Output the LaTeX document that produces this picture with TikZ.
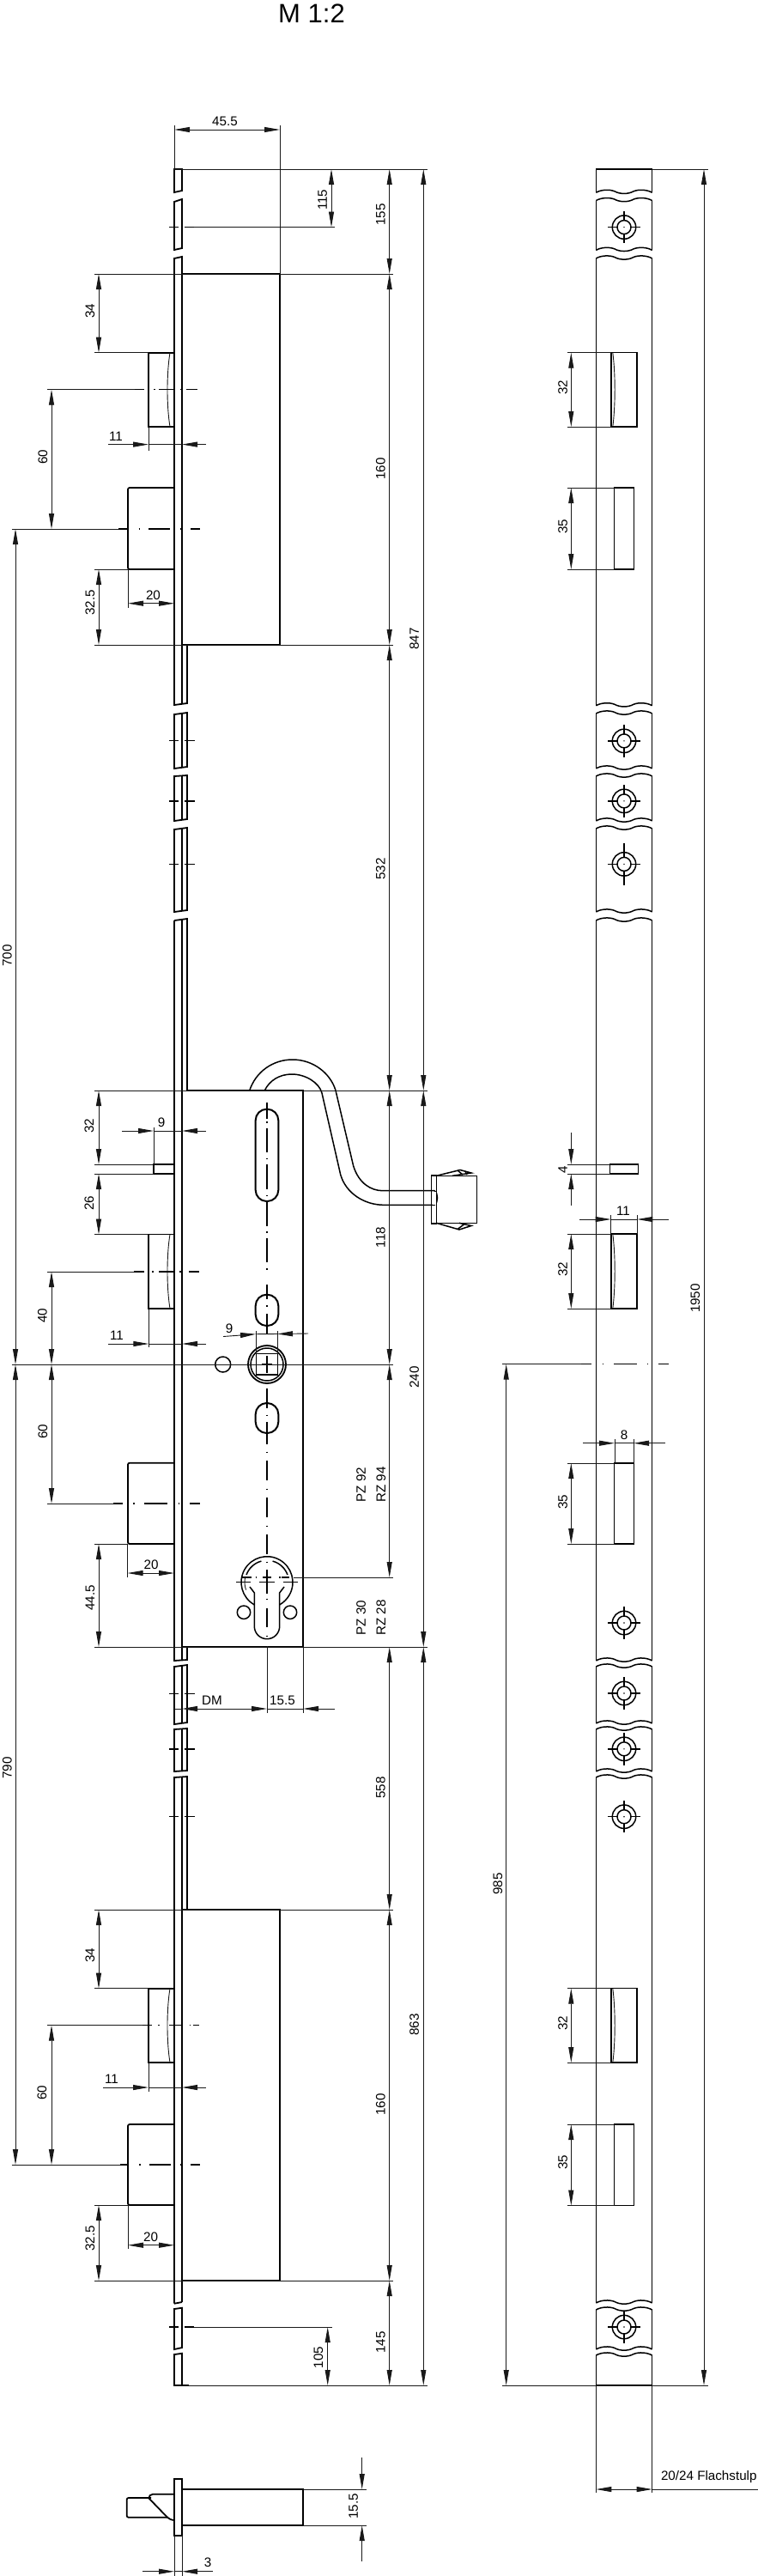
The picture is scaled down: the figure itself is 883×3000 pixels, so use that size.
\documentclass[tikz,border=0pt]{standalone}
\usepackage{fontspec}
\setmainfont{Liberation Sans}
\usetikzlibrary{arrows.meta}
\newcounter{lb}
\tikzset{
  thk/.style={line width=1.8pt,line join=miter},
  med/.style={line width=1.5pt},
  thn/.style={line width=0.9pt,black!90},
  cln/.style={line width=1.2pt},
  dimv/.style={line width=0.9pt,black!90,{Triangle[length=18pt,width=6pt]}-{Triangle[length=18pt,width=6pt]}},
  dimr/.style={line width=0.9pt,black!90,-{Triangle[length=18pt,width=6pt]}},
  lab/.style={inner sep=0pt,font=\fontsize{15.2}{16}\selectfont},
}
% dimension helpers
\newcommand{\vdm}[3]{\draw[dimv] (#1,#2) -- (#1,#3);}
\newcommand{\hout}[5]{% y, left tail, left tip, right tail, right tip
  \draw[dimr] (#2,#1) -- (#3,#1); \draw[dimr] (#4,#1) -- (#5,#1); \draw[thn] (#3,#1) -- (#5,#1);}
\newcommand{\lbh}[3]{\stepcounter{lb}\node[lab] (t\arabic{lb}) at (#1,#2) {#3};}
\newcommand{\lbv}[3]{\stepcounter{lb}\node[lab,rotate=90] (t\arabic{lb}) at (#1,#2) {#3};}
\newcommand{\hsg}[2]{\foreach \a/\b in {#2} {\draw[cln] (\a,#1) -- (\b,#1);}}
\newcommand{\tck}[1]{\hsg{#1}{197/208,214.5/227}}
\newcommand{\lseg}[5]{\draw[thk] (203,#1) -- (#5,#2) -- (#5,#4) -- (203,#3) -- cycle;}
% right view
\newcommand{\wv}[1]{\draw[med] (694.3,#1) .. controls (700,#1-3.5) and (710,#1-4) .. (716,#1-1.5) .. controls (722,#1+2) and (732,#1+2) .. (738,#1-1.5) .. controls (744,#1-4) and (754,#1-3.5) .. (759.7,#1);}
\newcommand{\pce}[2]{\wv{#1}\wv{#2}\draw[med] (694.3,#1) -- (694.3,#2) (759.7,#1) -- (759.7,#2);}
\newcommand{\hol}[2]{% y, vertical reach
  \draw[med] (727,#1) circle[radius=13.7] (727,#1) circle[radius=8];
  \fill (727,#1) circle[radius=0.8];
  \draw[med] (708.3,#1) -- (719,#1) (735,#1) -- (745.7,#1) (727,#1-#2) -- (727,#1-8) (727,#1+8) -- (727,#1+#2);}
\newcommand{\ltc}[2]{% latch, left view: top, bottom
  \draw[thk] (203,#1) -- (173,#1) -- (173,#2) -- (203,#2);
  \draw[thn] (198,#1) .. controls (194,#1+25) and (194,#2-25) .. (198,#2);
  \draw[thn] (110,#1) -- (173,#1);}
\newcommand{\blt}[2]{% bolt, left view: top, bottom
  \draw[thk,rounded corners=2pt] (203,#1) -- (149,#1) -- (149,#2) -- (203,#2);
  \draw[thn] (110,#2) -- (149,#2);}
\newcommand{\rlt}[2]{% latch, right view
  \draw[med] (712,#1) rectangle (742,#2);
  \draw[thn] (713.8,#1) .. controls (717,#1+25) and (717,#2-25) .. (713.8,#2);
  \draw[thn] (660.7,#1) -- (712,#1) (660.7,#2) -- (712,#2);
  \vdm{665.3}{#1}{#2}}
\newcommand{\rbl}[2]{% bolt, right view
  \draw[med] (715.7,#1) rectangle (738.3,#2);
  \draw[thn] (660.7,#1) -- (715.7,#1) (660.7,#2) -- (715.7,#2);
  \vdm{665.3}{#1}{#2}}
\begin{document}
\begin{tikzpicture}[x=1pt,y=-1pt]
\useasboundingbox (0,0) rectangle (883,3000);
\fill[white] (0,0) rectangle (883,3000);
\stepcounter{lb}\node[inner sep=0pt,font=\fontsize{31}{32}\selectfont] (title) at (363,15.5) {M 1:2};

%% ---------- left view: faceplate segments
\lseg{197}{197}{224}{222}{212}
\lseg{235}{232}{291}{289}{212}
\draw[thk] (203,301) -- (212,299) -- (212,751) -- (218,751) -- (218,819) -- (203,821) -- cycle;
\draw[thk] (212,751) -- (212,820);
\lseg{832}{830}{895}{893}{218} \draw[med] (212,831) -- (212,894);
\lseg{904}{903}{956}{954}{218} \draw[med] (212,903.5) -- (212,955);
\lseg{966}{964}{1062}{1060}{218} \draw[med] (212,965) -- (212,1061);
\draw[thk] (203,1072) -- (218,1070) -- (218,1270);
\draw[med] (212,1071) -- (212,1933);
\draw[thk] (203,1072) -- (203,1934) -- (218,1933) -- (218,1918);
\lseg{1941}{1939}{2008}{2006}{218} \draw[med] (212,1940) -- (212,2007);
\lseg{2014}{2013}{2063}{2062}{218} \draw[med] (212,2013.5) -- (212,2062.5);
\draw[thk] (203,2682.7) -- (203,2070) -- (218,2069) -- (218,2224);
\draw[med] (212,2069.5) -- (212,2681);
\draw[thk] (203,2682.7) -- (212,2681);
\lseg{2689}{2687.7}{2736}{2734}{212}
\lseg{2742}{2740.7}{2778}{2778}{212}
\draw[thk] (212,2224) -- (212,2681);

%% lock cases
\draw[thk] (212,319) -- (326,319) -- (326,751) -- (212,751);
\draw[thk] (218,1270) -- (353,1270) -- (353,1918) -- (212,1918);
\draw[thk] (212,2224) -- (326,2224) -- (326,2656) -- (212,2656);

%% screw centre ticks on the faceplate
\hsg{264.5}{197/208,215/226}
\tck{862.7}\tck{933}\tck{1006.7}\tck{1972.7}\tck{2037}\tck{2115.7}
\hsg{2710}{197/208,215/226}
\draw[thn] (226,264.5) -- (390,264.5);
\draw[thn] (226,2710) -- (386.7,2710);

%% latches and bolts, left view
\ltc{410.7}{497}
\ltc{2315.7}{2402}
\draw[thk] (203,1437.5) -- (173.3,1437.5) -- (173.3,1524) -- (203,1524);
\draw[thn] (198,1437.5) .. controls (194,1462) and (194,1499) .. (198,1524);
\draw[thn] (110,1437.5) -- (173.3,1437.5);
\blt{568}{663}
\blt{1703.7}{1798}
\blt{2474}{2568}
\draw[thk] (203,1356) -- (179,1356) -- (179,1367) -- (203,1367);
\draw[thn] (110,1356) -- (179,1356) (110,1367) -- (179,1367) (179,1313) -- (179,1356);

%% centre lines, left view
\hsg{453.7}{157/168,179/180.5,185/202,210/211.5,217/230}
\draw[thn] (55,453.7) -- (157,453.7);
\hsg{616}{138/149,161.5/163,173/198,209.5/211,222/233}
\draw[thn] (13.5,616) -- (138,616);
\hsg{1481}{156/168,177/178.5,185/203,209/210.5,220/232}
\draw[thn] (55,1481) -- (156,1481);
\hsg{1751}{132/143,155/156.5,168/195,207.5/209,221/233}
\draw[thn] (55,1751) -- (132,1751);
\hsg{2358.7}{166/177,184/185.5,197/213,220.5/222,225/232}
\draw[thn] (55,2358.7) -- (166,2358.7);
\hsg{2521}{140/149,162/163.5,174/199,209.5/211,222/233}
\draw[thn] (13.5,2521) -- (140,2521);

%% slots and holes in the central case
\draw[line width=2pt,rounded corners=13pt] (297.7,1291.7) rectangle (324.3,1399);
\draw[line width=2pt,rounded corners=13pt] (297.7,1507.7) rectangle (324.3,1544);
\draw[line width=2pt,rounded corners=13pt] (297.7,1634) rectangle (324.3,1669);
\draw[med] (259.7,1589) circle[radius=9];
\draw[thk] (311,1589) circle[radius=22];
\draw[med] (311,1589) circle[radius=19];
\draw[med] (298.5,1576.5) rectangle (323.5,1601);
\draw[thk] (305,1589) -- (317,1589) (311,1579) -- (311,1599);
\draw[thn] (298,1550) -- (298,1576.5) (323,1550) -- (323,1576.5);

%% vertical centre line
\foreach \a/\b in {1284/1303,1306/1307.5,1314/1342,1348.5/1350,1356/1385,1391.5/1393,1399/1428,1434/1435.5,1442/1470,1477/1478.5,1496/1513,1520/1521.5,1530/1553,1617/1640,1647.5/1649,1656/1682,1690.5/1692,1701/1724,1733.5/1735,1744/1767,1776.5/1778,1787/1810,1818.5/1820,1828/1856,1861.5/1863,1873/1895,1904.5/1906}
  {\draw[cln] (311,\a) -- (311,\b);}
\draw[thn] (311,1917) -- (311,1995);
\draw[thn] (353,1918) -- (353,1995);

%% profile cylinder cut-out
\draw[med] (311,1842.7) ++(119.3:30) arc[start angle=119.3,end angle=420.7,radius=30];
\draw[med] (291,1848) -- (296.3,1855) -- (296.3,1894) arc[start angle=180,end angle=0,radius=14.7] -- (325.7,1855) -- (331,1848);
\draw[thn] (311,1842.7) ++(160:26) arc[start angle=160,end angle=195,radius=26];
\draw[med] (311,1842.7) ++(200:25.5) arc[start angle=200,end angle=255,radius=25.5];
\draw[med] (311,1842.7) ++(285:25.5) arc[start angle=285,end angle=340,radius=25.5];
\draw[med] (284,1877.7) circle[radius=7.7] (338,1877.7) circle[radius=7.7];
\hsg{1842.7}{275/292,302/320,330/347}
\draw[thk] (311,1833) -- (311,1852);
\hsg{1837}{281/293,297.5/299,306/316,325/326.5,328/337}
\draw[thn] (342,1837) -- (458,1837);

%% cable
\draw[med] (290.7,1270) .. controls (298,1248) and (318,1234) .. (340.7,1234) .. controls (365,1234) and (385,1250) .. (391,1270)
  -- (411.7,1358) .. controls (418,1378) and (432,1386.7) .. (446,1386.7) -- (506,1386.7)
  .. controls (508.5,1388) and (509.5,1392) .. (509.5,1395) .. controls (509.5,1398) and (508.5,1402) .. (506,1403.3)
  -- (447,1403.3) .. controls (425,1403.3) and (403,1390) .. (396.7,1368) -- (375,1273) .. controls (372,1261) and (356,1251) .. (340,1251) .. controls (326,1251) and (314,1258) .. (308.3,1270);
%% connector
\draw[med] (502.7,1369) rectangle (508.3,1425);
\draw[med] (508.3,1369.3) rectangle (555.7,1424.3);
\fill[white] (504,1387.5) rectangle (507.5,1402.5);
\draw[med] (508.3,1369.3) -- (536,1362.5) -- (549,1366) -- (527,1369.3);
\draw[med] (533,1363) -- (539,1368) (542,1364) -- (544,1368);
\draw[med] (508.3,1424.3) -- (535,1432) -- (549,1427.5) -- (535,1424.3);
\draw[med] (533,1431.5) -- (541,1425.5);

%% long construction lines
\draw[thn] (203,197) -- (498,197);
\draw[thn] (110,319) -- (458,319);
\draw[thn] (110,751) -- (458,751);
\draw[thn] (110,1270) -- (498,1270);
\draw[thn] (13.5,1589) -- (458,1589);
\draw[thn] (110,1918) -- (498,1918);
\draw[thn] (110,2224) -- (458,2224);
\draw[thn] (110,2656) -- (458,2656);
\draw[thn] (203,2778) -- (498,2778);
\draw[thk] (203,2778) -- (220,2778);
\draw[thn] (203,146) -- (203,197) (326,146) -- (326,319);

%% dimensions, left view
\draw[dimv] (203,151) -- (326,151); \lbh{262}{141}{45.5}
\vdm{386}{197}{264.5} \lbv{375.7}{232.7}{115}
\vdm{453.7}{197}{319} \lbv{443.5}{250}{155}
\vdm{453.7}{319}{751} \lbv{443.5}{546}{160}
\vdm{453.7}{751}{1270} \lbv{443.5}{1012}{532}
\vdm{453.7}{1270}{1589} \lbv{443.5}{1441}{118}
\vdm{453.7}{1589}{1837}
\vdm{453.7}{1918}{2224} \lbv{443.5}{2082}{558}
\vdm{453.7}{2224}{2656} \lbv{443.5}{2451}{160}
\vdm{453.7}{2656}{2778} \lbv{443.5}{2728}{145}
\vdm{493.3}{197}{1270} \lbv{482.7}{744}{847}
\vdm{493.3}{1270}{1918} \lbv{482.7}{1604}{240}
\vdm{493.3}{1918}{2778} \lbv{482.7}{2358}{863}
\lbv{420.7}{1729}{PZ 92} \lbv{444}{1729}{RZ 94}
\lbv{420.7}{1884}{PZ 30} \lbv{444}{1884}{RZ 28}
\vdm{381.7}{2710}{2778} \lbv{371}{2745.7}{105}

\vdm{115}{319}{410.7} \lbv{105}{362}{34}
\vdm{60}{453.7}{616} \lbv{50}{532}{60}
\hout{517.6}{126}{173}{240}{212} \draw[thn] (173,497) -- (173,525); \lbh{135}{508}{11}
\draw[dimv] (149,702.7) -- (203,702.7); \draw[thn] (149,663) -- (149,708); \lbh{178.5}{693}{20}
\vdm{115}{663}{751} \lbv{105}{702}{32.5}
\vdm{18}{616}{1589} \lbv{8.5}{1113}{700}

\vdm{115}{1270}{1356} \lbv{104}{1311}{32}
\hout{1317}{142}{179}{240}{212} \lbh{188}{1307}{9}
\vdm{115}{1367}{1437.5} \lbv{104}{1401}{26}
\vdm{60}{1481}{1589} \lbv{49.5}{1532}{40}
\hout{1565}{126}{173.3}{240}{212} \draw[thn] (173.3,1524) -- (173.3,1569); \lbh{136}{1555}{11}
\draw[dimr] (260,1556.5) -- (298,1553.7); \draw[dimr] (359,1553) -- (323,1553.5); \draw[thn] (298,1553.7) -- (323,1553.5); \lbh{267}{1547}{9}
\vdm{60}{1589}{1751} \lbv{50}{1667}{60}
\draw[dimv] (148.5,1832) -- (203,1832); \draw[thn] (148.5,1798) -- (148.5,1837); \lbh{176}{1822}{20}
\vdm{115}{1798}{1918} \lbv{105}{1861}{44.5}
\draw[dimv] (212,1990) -- (311,1990); \draw[thn] (203,1990) -- (212,1990);
\draw[dimr] (390,1990) -- (353,1990); \draw[thn] (311,1990) -- (353,1990);
\lbh{247}{1980}{DM} \lbh{329}{1980}{15.5}

\vdm{18}{1589}{2521} \lbv{8.5}{2059}{790}
\vdm{115}{2224}{2315.7} \lbv{105}{2277}{34}
\vdm{60}{2358.7}{2521} \lbv{49}{2437}{60}
\hout{2431}{120}{173}{240}{212} \draw[thn] (173,2402) -- (173,2436); \lbh{130}{2421.7}{11}
\draw[dimv] (149,2614.7) -- (203,2614.7); \draw[thn] (149,2568) -- (149,2619); \lbh{175.7}{2605}{20}
\vdm{115}{2568}{2656} \lbv{105}{2607}{32.5}

%% section at the foot
\draw[thk] (203,2887) rectangle (212,2952.7);
\draw[thk] (212,2899) rectangle (353,2941);
\draw[thk,rounded corners=2pt] (196,2931.7) -- (147.7,2931.7) -- (147.7,2909) -- (176,2909);
\draw[thk] (203,2935) .. controls (199,2934.5) and (197,2933.5) .. (195,2931.7) -- (173.5,2909.5) .. controls (173.5,2907) and (175,2904.7) .. (178,2904.7) -- (203,2904.7);
\draw[thn] (353,2899) -- (426.7,2899) (353,2941) -- (426.7,2941);
\draw[dimr] (421.7,2862) -- (421.7,2899);
\draw[dimr] (421.7,2982.7) -- (421.7,2941);
\lbv{411.7}{2919}{15.5}
\draw[thn] (203,2952.7) -- (203,3000) (212,2952.7) -- (212,3000);
\hout{2994.7}{166}{203}{248}{212}
\lbh{242}{2984}{3}

%% ---------- right view: faceplate
\draw[med] (694.3,197) -- (759.7,197);
\wv{224.3}\draw[med] (694.3,197) -- (694.3,224.3) (759.7,197) -- (759.7,224.3);
\pce{233.6}{291.4}
\pce{301}{821.8}
\pce{831}{895}
\pce{904}{956}
\pce{965}{1062}
\pce{1072}{1934}
\pce{1941}{2007}
\pce{2014}{2063}
\pce{2070}{2682}
\pce{2690}{2736}
\wv{2743}\draw[med] (694.3,2743) -- (694.3,2778) (759.7,2743) -- (759.7,2778);
\draw[thk] (694.3,2778) -- (759.7,2778);

\hol{264.6}{18.7}
\hol{862.9}{18.7}
\hol{932.9}{18.7}
\hol{1006.4}{24.6}
\hol{1890}{18.7}
\hol{1972}{18.7}
\hol{2036.8}{18.7}
\hol{2115.7}{18.7}
\hol{2710}{18.7}

\rlt{410.7}{497} \lbv{655.7}{451}{32}
\rbl{568}{663} \lbv{655.7}{613}{35}
\rlt{1437}{1524} \lbv{655.7}{1478}{32}
\rbl{1704}{1798} \lbv{655.7}{1749}{35}
\rlt{2315.7}{2402} \lbv{655.7}{2356}{32}
\rbl{2474}{2568.6} \lbv{655.7}{2518.5}{35}

\draw[med] (710.7,1356) rectangle (743.3,1367);
\draw[thn] (660.7,1356) -- (710.7,1356) (660.7,1367) -- (710.7,1367);
\draw[dimr] (665.3,1319) -- (665.3,1356);
\draw[dimr] (665.3,1404) -- (665.3,1367);
\lbv{655.7}{1362}{4}

\hout{1420}{675}{711.7}{779}{742.3}
\draw[thn] (711.7,1415) -- (711.7,1437) (742.3,1415) -- (742.3,1437);
\lbh{726}{1410.7}{11}

\hout{1680.7}{679}{716}{775}{738}
\draw[thn] (716,1675.7) -- (716,1704) (738,1675.7) -- (738,1704);
\lbh{727}{1671}{8}

\hsg{1588.6}{677/689,701.5/703,715/741.7,753.5/755,766.7/779}
\draw[thn] (585,1588.6) -- (677,1588.6);
\vdm{589.7}{1588.6}{2778} \lbv{580}{2194}{985}

\draw[thn] (759.7,197) -- (825,197) (585,2778) -- (825,2778);
\vdm{820}{197}{2778} \lbv{810}{1512}{1950}

\draw[thn] (694.3,2778) -- (694.3,2903.4) (759.7,2778) -- (759.7,2903.4);
\draw[dimv] (694.3,2899) -- (759.7,2899);
\draw[thn] (759.7,2899) -- (883,2899);
\lbh{825.8}{2884.6}{20/24 Flachstulp}
\end{tikzpicture}
\end{document}
